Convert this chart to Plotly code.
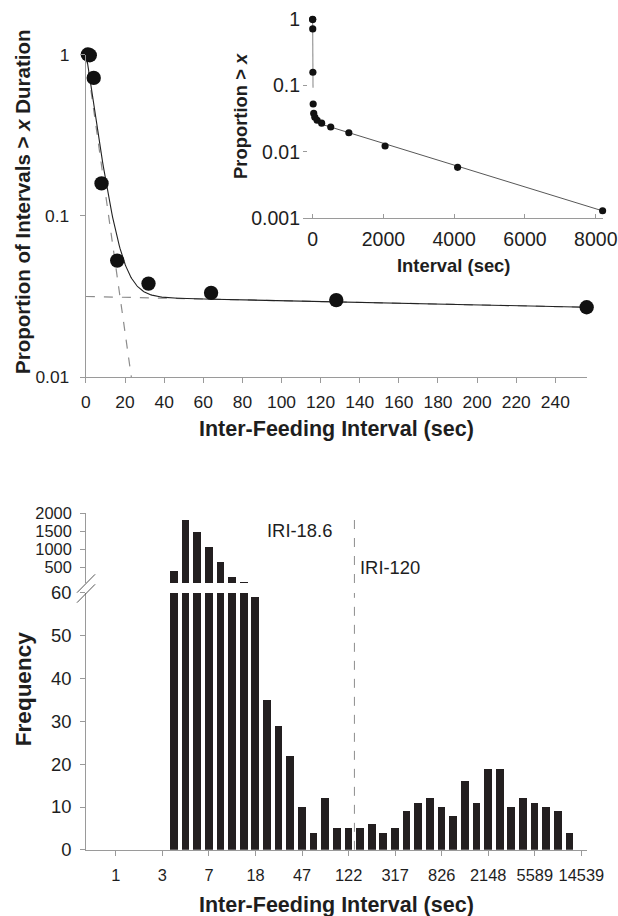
import numpy as np
import plotly.graph_objects as go

# ---- survival data: proportion of inter-feeding intervals longer than x ----
interval_sec = [1, 2, 4, 8, 16, 32, 64, 128, 256, 512, 1024, 2048, 4096, 8192]
prop_longer = [1.0, 0.99, 0.716, 0.159, 0.0529, 0.0381, 0.0334, 0.0301, 0.0272,
               0.0238, 0.0195, 0.0123, 0.00587, 0.0013]
main_count = 9  # points up to 256 s shown in the main panel

# two-exponential fit (fast within-meal, slow between-meal)
fast_amp, fast_rate = 1.0, 0.198
slow_amp, slow_rate = 0.0317, 0.0006
# long-range slow fit used in the inset
inset_amp, inset_rate = 0.0288, 3.785e-4

# ---- histogram of log-binned inter-feeding intervals ----
freq = [0, 0, 0, 0, 0, 374, 1811, 1477, 1041, 635, 207, 85, 59,
        35, 29, 22, 10, 4, 12, 5, 5, 5, 6, 4, 5, 9, 11, 12, 10, 8,
        16, 11, 19, 19, 10, 12, 11, 10, 9, 4, 0]
bin_tick_labels = ["1", "3", "7", "18", "47", "122", "317", "826", "2148", "5589", "14539"]
bins_per_tick = 4
iri_120_bin = 20.5

# canvas and the scale used to lay out panel positions (given in screen pixels)
W, H = 634, 928
SX, SY, OY = 0.975, 0.978, 9.0
K = 1.025  # font / marker scale on this canvas
FONT = "Liberation Sans, Arial, sans-serif"
AX = "#9a9a9a"
INK = "#1e1e1e"


def px_x(p):
    """screen x pixel -> paper fraction"""
    return (p / SX) / W


def px_y(p):
    """screen y pixel (from top) -> paper fraction"""
    return 1 - ((p - OY) / SY) / H


def fnt(size):
    return dict(family=FONT, size=round(size * K, 1), color=INK)


fig = go.Figure()

# ---------------- main survival panel ----------------
xm = interval_sec[:main_count]
ym = prop_longer[:main_count]
xs = np.linspace(0, 256, 600)
fig.add_trace(go.Scatter(x=xs, y=slow_amp * np.exp(-slow_rate * xs), mode="lines",
                         line=dict(color="#8c8c8c", width=1.2, dash="dash"),
                         xaxis="x", yaxis="y", showlegend=False))
xf = np.linspace(0, 30, 200)
fig.add_trace(go.Scatter(x=xf, y=fast_amp * np.exp(-fast_rate * xf), mode="lines",
                         line=dict(color="#8c8c8c", width=1.2, dash="dash"),
                         xaxis="x", yaxis="y", showlegend=False))
fig.add_trace(go.Scatter(x=xs, y=fast_amp * np.exp(-fast_rate * xs) + slow_amp * np.exp(-slow_rate * xs),
                         mode="lines", line=dict(color="#222", width=1.1),
                         xaxis="x", yaxis="y", showlegend=False))
fig.add_trace(go.Scatter(x=xm, y=ym, mode="markers", cliponaxis=False,
                         marker=dict(color="#111", size=14 * K),
                         xaxis="x", yaxis="y", showlegend=False))

# ---------------- inset ----------------
xi_fast = np.linspace(0, 12, 50)
fig.add_trace(go.Scatter(x=xi_fast, y=fast_amp * np.exp(-fast_rate * xi_fast), mode="lines",
                         line=dict(color="#9a9a9a", width=1.2),
                         xaxis="x2", yaxis="y2", showlegend=False))
xi_slow = np.linspace(256, 8192, 100)
fig.add_trace(go.Scatter(x=xi_slow, y=inset_amp * np.exp(-inset_rate * xi_slow), mode="lines",
                         line=dict(color="#444", width=0.9),
                         xaxis="x2", yaxis="y2", showlegend=False))
fig.add_trace(go.Scatter(x=interval_sec, y=prop_longer, mode="markers", cliponaxis=False,
                         marker=dict(color="#111", size=7 * K),
                         xaxis="x2", yaxis="y2", showlegend=False))

# ---------------- histogram (broken y axis) ----------------
bins = list(range(len(freq)))
for ya in ("y3", "y4"):
    fig.add_trace(go.Bar(x=bins, y=freq, width=0.66, marker=dict(color="#231f20", line=dict(width=0)),
                         xaxis="x3" if ya == "y3" else "x4", yaxis=ya, showlegend=False))
fig.add_trace(go.Scatter(x=[iri_120_bin, iri_120_bin], y=[0, 60], mode="lines",
                         line=dict(color="#8c8c8c", width=1, dash="dash"),
                         xaxis="x3", yaxis="y3", showlegend=False))
fig.add_trace(go.Scatter(x=[iri_120_bin, iri_120_bin], y=[60, 2000], mode="lines",
                         line=dict(color="#8c8c8c", width=1, dash="dash"),
                         xaxis="x4", yaxis="y4", showlegend=False))

axis_common = dict(showgrid=False, zeroline=False, showline=True, linecolor=AX, linewidth=1.2,
                   ticks="outside", tickcolor=AX, ticklen=5, tickwidth=1, tickfont=fnt(17))

bx0, bx1 = px_x(82), px_x(588)
fig.update_layout(
    width=W, height=H, margin=dict(l=0, r=0, t=0, b=0),
    paper_bgcolor="white", plot_bgcolor="rgba(0,0,0,0)",
    font=dict(family=FONT, color=INK),
    bargap=0,
    xaxis=dict(axis_common, domain=[px_x(81.7), px_x(587.5)], range=[0, 256], anchor="y",
               tickvals=list(range(0, 241, 20)), ticklabelstandoff=4),
    yaxis=dict(axis_common, type="log", domain=[px_y(376), px_y(52.6)], range=[-2, 0], anchor="x",
               tickvals=[0.01, 0.1, 1], ticktext=["0.01", "0.1", "1"], ticklabelstandoff=7),
    xaxis2=dict(axis_common, domain=[px_x(301), px_x(603.6)], range=[-271, 8192], anchor="y2",
                ticks="inside", ticklen=4, tickvals=[0, 2000, 4000, 6000, 8000], ticklabelstandoff=3,
                tickfont=fnt(19)),
    yaxis2=dict(axis_common, type="log", domain=[px_y(216.7), px_y(17.3)], range=[-3, 0], anchor="x2",
                showline=False, ticks="inside", ticklen=4, ticklabelstandoff=2,
                tickvals=[0.001, 0.01, 0.1, 1], ticktext=["0.001", "0.01", "0.1", "1"],
                tickfont=fnt(19)),
    xaxis3=dict(axis_common, domain=[bx0, bx1], range=[-2.55, 40.5], anchor="y3",
                tickvals=bins[::bins_per_tick], ticktext=bin_tick_labels,
                tickfont=fnt(16), ticklabelstandoff=5),
    yaxis3=dict(axis_common, domain=[px_y(849.3), px_y(592)], range=[0, 60], anchor="x3",
                tickvals=[0, 10, 20, 30, 40, 50, 60], tickfont=fnt(18), ticklabelstandoff=5),
    xaxis4=dict(domain=[bx0, bx1], range=[-2.55, 40.5], anchor="y4", visible=False, matches="x3"),
    yaxis4=dict(axis_common, domain=[px_y(582), px_y(512.2)], range=[60, 2000], anchor="x4",
                tickvals=[500, 1000, 1500, 2000], tickfont=fnt(16), ticklabelstandoff=5),
)

# axis titles
titles = [
    ("<b>Inter-Feeding Interval (sec)</b>", 334.6, 428, 0, 21),
    ("<b>Proportion of Intervals &gt; <i>x</i> Duration</b>", 17.5, 200, -90, 20),
    ("<b>Interval (sec)</b>", 453, 264, 0, 18),
    ("<b>Proportion &gt; <i>x</i></b>", 238.5, 114, -90, 18),
    ("<b>Inter-Feeding Interval (sec)</b>", 335, 905, 0, 21),
    ("<b>Frequency</b>", 18.5, 688, -90, 22),
]
for text, tx, ty, ang, size in titles:
    fig.add_annotation(x=px_x(tx), y=px_y(ty), xref="paper", yref="paper", text=text, textangle=ang,
                       showarrow=False, xanchor="center", yanchor="middle", font=fnt(size))

# threshold labels
fig.add_annotation(x=12.8, y=1530, xref="x4", yref="y4", text="IRI-18.6", showarrow=False,
                   xanchor="left", yanchor="middle", font=fnt(18))
fig.add_annotation(x=20.85, y=485, xref="x4", yref="y4", text="IRI-120", showarrow=False,
                   xanchor="left", yanchor="middle", font=fnt(18))

# axis-break marks
for y0 in (591.7, 601.7):
    fig.add_shape(type="line", xref="paper", yref="paper",
                  x0=px_x(72.7), y0=px_y(y0), x1=px_x(91), y1=px_y(y0 - 18.4),
                  line=dict(color="#555", width=1))

fig.write_html("out.html")
